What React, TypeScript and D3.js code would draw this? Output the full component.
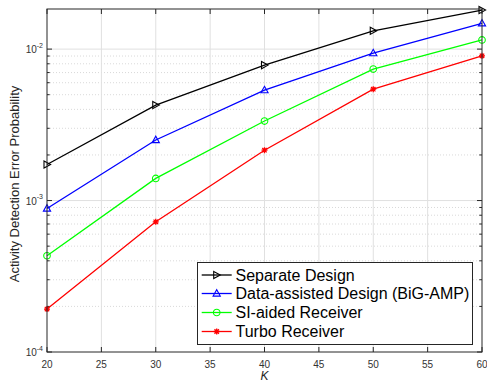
import React from 'react';
import * as d3 from 'd3';

// K values (x axis)
const kValues = [20, 30, 40, 50, 60];

// series
const separateDesign = [1.73e-3, 4.27e-3, 7.84e-3, 1.32e-2, 1.81e-2];
const dataAssisted = [8.86e-4, 2.51e-3, 5.36e-3, 9.41e-3, 1.48e-2];
const siAided = [4.32e-4, 1.4e-3, 3.35e-3, 7.38e-3, 1.15e-2];
const turbo = [1.92e-4, 7.24e-4, 2.15e-3, 5.44e-3, 9.03e-3];

const seriesNames = [
  'Separate Design',
  'Data-assisted Design (BiG-AMP)',
  'SI-aided Receiver',
  'Turbo Receiver',
];

const xTicks = [20, 25, 30, 35, 40, 45, 50, 55, 60];
const yDecades = [1e-4, 1e-3, 1e-2];
const yExponents = ['-4', '-3', '-2'];

const W = 487;
const H = 383;
const font = 'Liberation Sans, Arial, Helvetica, sans-serif';

const Marker = ({ kind, color }: { kind: string; color: string }) => {
  if (kind === 'right')
    return <polygon points="-3,-3.6 3.6,0 -3,3.6" fill="none" stroke={color} strokeWidth={1.1} />;
  if (kind === 'up')
    return <polygon points="-3.6,2.6 3.6,2.6 0,-3.8" fill="none" stroke={color} strokeWidth={1.1} />;
  if (kind === 'circle') return <circle r={3.3} fill="none" stroke={color} strokeWidth={1.1} />;
  return (
    <path
      d="M-3,0L3,0M0,-3L0,3M-2.2,-2.2L2.2,2.2M-2.2,2.2L2.2,-2.2"
      stroke={color}
      strokeWidth={1.3}
      fill="none"
    />
  );
};

export default function App() {
  const x = d3.scaleLinear().domain([20, 60]).range([47, 482]);
  const y = d3.scaleLog().domain([1e-4, 1.84e-2]).range([352, 9]);

  const series = [
    { name: seriesNames[0], values: separateDesign, color: '#000000', marker: 'right' },
    { name: seriesNames[1], values: dataAssisted, color: '#0000ff', marker: 'up' },
    { name: seriesNames[2], values: siAided, color: '#00ff00', marker: 'circle' },
    { name: seriesNames[3], values: turbo, color: '#ff0000', marker: 'star' },
  ];

  const line = d3
    .line<number>()
    .x((_, i) => x(kValues[i]))
    .y((d) => y(d));

  // minor log ticks 2..9 inside the domain
  const minor: number[] = [];
  yDecades.forEach((d) => {
    for (let m = 2; m <= 9; m++) {
      const v = d * m;
      if (v < 1.84e-2) minor.push(v);
    }
  });

  const [x0, x1] = x.range();
  const [yb, yt] = y.range();

  // legend
  const lg = { x: 197.5, y: 262.5, w: 275, h: 82 };
  const rowY = [275, 293.5, 312.5, 331.5];

  return (
    <svg
      width={W}
      height={H}
      style={{ position: 'fixed', left: 0, top: 0, background: '#fff' }}
      fontFamily={font}
    >
      <rect width={W} height={H} fill="#fff" />

      {/* grid */}
      {minor.map((v) => (
        <line key={'mg' + v} x1={x0} x2={x1} y1={y(v)} y2={y(v)} stroke="#cfcfcf" strokeDasharray="1,2" strokeWidth={0.8} />
      ))}
      {yDecades.slice(1).map((v) => (
        <line key={'yg' + v} x1={x0} x2={x1} y1={y(v)} y2={y(v)} stroke="#e0e0e0" strokeWidth={1} />
      ))}
      {xTicks.slice(1, -1).map((t) => (
        <line key={'xg' + t} x1={x(t)} x2={x(t)} y1={yt} y2={yb} stroke="#e0e0e0" strokeWidth={1} />
      ))}

      {/* ticks */}
      {xTicks.map((t) => (
        <g key={'xt' + t} stroke="#262626" strokeWidth={1}>
          <line x1={x(t)} x2={x(t)} y1={yb} y2={yb - 5} />
          <line x1={x(t)} x2={x(t)} y1={yt} y2={yt + 5} />
        </g>
      ))}
      {yDecades.map((v) => (
        <g key={'yt' + v} stroke="#262626" strokeWidth={1}>
          <line x1={x0} x2={x0 + 5} y1={y(v)} y2={y(v)} />
          <line x1={x1} x2={x1 - 5} y1={y(v)} y2={y(v)} />
        </g>
      ))}
      {minor.map((v) => (
        <g key={'ym' + v} stroke="#262626" strokeWidth={1}>
          <line x1={x0} x2={x0 + 2.7} y1={y(v)} y2={y(v)} />
          <line x1={x1} x2={x1 - 2.7} y1={y(v)} y2={y(v)} />
        </g>
      ))}

      {/* series */}
      {series.map((s) => (
        <g key={s.name}>
          <path d={line(s.values) || ''} fill="none" stroke={s.color} strokeWidth={1.3} />
          {s.values.map((v, i) => (
            <g key={i} transform={`translate(${x(kValues[i])},${y(v)})`}>
              <Marker kind={s.marker} color={s.color} />
            </g>
          ))}
        </g>
      ))}

      {/* axes box */}
      <rect x={x0} y={yt} width={x1 - x0} height={yb - yt} fill="none" stroke="#262626" strokeWidth={1} />

      {/* tick labels */}
      {xTicks.map((t) => (
        <text key={'xl' + t} x={x(t)} y={368} textAnchor="middle" fontSize={10} fill="#333">
          {t}
        </text>
      ))}
      {yDecades.map((v, i) => (
        <text key={'yl' + v} x={43} y={y(v) + 4} textAnchor="end" fontSize={10} fill="#333">
          10
          <tspan dy={-5.5} fontSize={7}>
            {yExponents[i]}
          </tspan>
        </text>
      ))}

      {/* axis labels */}
      <text x={264.5} y={380} textAnchor="middle" fontSize={12} fontStyle="italic" fill="#262626">
        K
      </text>
      <text
        transform="translate(18.5,184) rotate(-90)"
        textAnchor="middle"
        fontSize={13}
        fill="#262626"
      >
        Activity Detection Error Probability
      </text>

      {/* legend */}
      <rect x={lg.x} y={lg.y} width={lg.w} height={lg.h} fill="#fff" stroke="#262626" strokeWidth={1} />
      {series.map((s, i) => (
        <g key={'lg' + s.name}>
          <line x1={201.7} x2={231.7} y1={rowY[i]} y2={rowY[i]} stroke={s.color} strokeWidth={1.3} />
          <g transform={`translate(216.7,${rowY[i]})`}>
            <Marker kind={s.marker} color={s.color} />
          </g>
          <text x={235.5} y={rowY[i] + 5.5} fontSize={16} fill="#000">
            {s.name}
          </text>
        </g>
      ))}
    </svg>
  );
}
